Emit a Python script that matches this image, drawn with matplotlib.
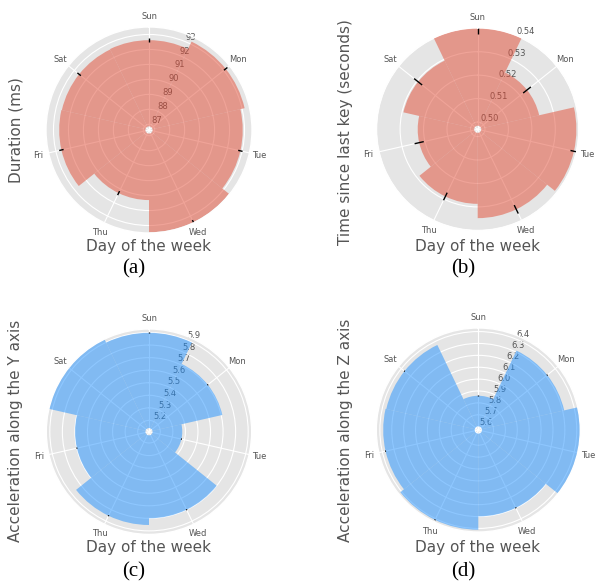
import numpy as np
import matplotlib
matplotlib.use("Agg")
import matplotlib.pyplot as plt

plt.style.use("ggplot")
plt.rcParams["font.family"] = ["DejaVu Sans"]

days = ["Sun", "Mon", "Tue", "Wed", "Thu", "Fri", "Sat"]

duration_ms = [92.62, 93.17, 92.88, 93.45, 91.30, 92.62, 92.59]
duration_err = [0.15, 0.15, 0.15, 0.15, 0.15, 0.15, 0.15]

key_gap_s = [0.5400, 0.5238, 0.5390, 0.5348, 0.5287, 0.5225, 0.5294]
key_gap_err = [0.0023, 0.0021, 0.0015, 0.0020, 0.0018, 0.0020, 0.0022]

acc_y = [5.898, 5.709, 5.375, 5.800, 5.853, 5.699, 5.930]
acc_y_err = [0.004, 0.004, 0.004, 0.004, 0.004, 0.004, 0.004]

acc_z = [5.860, 6.313, 6.430, 6.299, 6.411, 6.372, 6.366]
acc_z_err = [0.004, 0.004, 0.004, 0.004, 0.004, 0.004, 0.004]

W, H = 595, 581
fig = plt.figure(figsize=(W / 100, H / 100), dpi=100)


def px_axes(cx, cy, r):
    return [(cx - r) / W, 1 - (cy + r) / H, 2 * r / W, 2 * r / H]


def ftext(x, y, s, **kw):
    fig.text(x / W, 1 - y / H, s, ha="center", va="center", **kw)


panels = [
    dict(vals=duration_ms, err=duration_err, lim=(86.62, 93.5),
         ticks=[87, 88, 89, 90, 91, 92, 93], color="#E24A33",
         ylabel="Duration (ms)", cap="(a)", geom=(149, 130, 103),
         lab=(149, 247, 16, 130, 134, 269)),
    dict(vals=key_gap_s, err=key_gap_err, lim=(0.4969, 0.5402),
         ticks=[0.50, 0.51, 0.52, 0.53, 0.54], color="#E24A33",
         ylabel="Time since last key (seconds)", cap="(b)",
         geom=(477.7, 129.3, 101.5),
         lab=(477.7, 247, 345, 131.7, 463.3, 269)),
    dict(vals=acc_y, err=acc_y_err, lim=(5.11, 5.928),
         ticks=[5.2, 5.3, 5.4, 5.5, 5.6, 5.7, 5.8, 5.9], color="#1E90FF",
         ylabel="Acceleration along the Y axis", cap="(c)",
         geom=(149, 431.7, 102.7),
         lab=(149, 547.7, 16, 430.8, 134, 571.7)),
    dict(vals=acc_z, err=acc_z_err, lim=(5.572, 6.43),
         ticks=[5.6, 5.7, 5.8, 5.9, 6.0, 6.1, 6.2, 6.3, 6.4], color="#1E90FF",
         ylabel="Acceleration along the Z axis", cap="(d)",
         geom=(478.3, 430, 102),
         lab=(477.7, 547.7, 345, 430.8, 463.3, 571.7)),
]

theta = np.arange(len(days)) * 2 * np.pi / len(days)
width = 2 * np.pi / len(days)

for p in panels:
    ax = fig.add_axes(px_axes(*p["geom"]), projection="polar")
    ax.set_theta_zero_location("N")
    ax.set_theta_direction(-1)
    lo, hi = p["lim"]
    # bars start just off the pole so the converging spokes stay visible
    base = lo + 0.035 * (hi - lo)
    heights = np.asarray(p["vals"]) - base
    ax.bar(theta, heights, width=width, bottom=base, color=p["color"],
           alpha=0.5, yerr=p["err"], ecolor="black",
           error_kw=dict(elinewidth=1.0, capsize=0))
    ax.set_xticks(theta)
    ax.set_xticklabels(days)
    ax.set_rlim(lo, hi)
    ax.set_yticks(p["ticks"])
    ax.tick_params(axis="x", labelsize=6, colors="#555555", pad=-3)
    ax.tick_params(axis="y", labelsize=6, colors="#555555")
    xl, yl, yx, yy, cx, cy = p["lab"]
    ftext(xl, yl, "Day of the week", fontsize=11, color="#555555")
    ftext(yx, yy, p["ylabel"], fontsize=11, color="#555555", rotation=90)
    ftext(cx, cy, p["cap"], fontsize=15, color="black",
          family=["Liberation Serif"])

fig.savefig("out.png", dpi=100)
